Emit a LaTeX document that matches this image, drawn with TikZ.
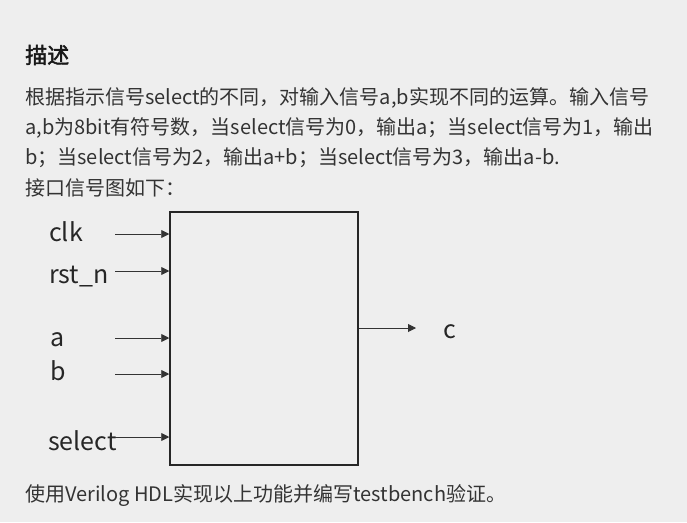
\documentclass[tikz,border=0pt]{standalone}
\usepackage{fontspec}
\setmainfont{Noto Sans CJK SC}[AutoFakeBold=2]
\usepackage{tikz}
\usetikzlibrary{positioning}
\usetikzlibrary{arrows.meta}
\definecolor{pagegray}{RGB}{238,238,238}
\definecolor{inkgray}{RGB}{51,51,51}
\tikzset{line text/.style={anchor=west,inner sep=0pt,text=inkgray,font=\fontsize{20}{20}\selectfont},
  head text/.style={anchor=west,inner sep=0pt,text=black!90,font=\fontsize{22}{22}\selectfont\bfseries},
  sig label/.style={anchor=base west,inner sep=0pt,text=black!85,font=\fontsize{25}{25}\selectfont},
  pin arrow/.style={-{Triangle[length=8pt,width=8pt]},line width=0.9pt,draw=black!80},
  block box/.style={draw=black!85,line width=1.5pt,minimum width=188pt,minimum height=253pt,inner sep=0pt},}

\begin{document}
\begin{tikzpicture}[x=1pt,y=-1pt]
	\fill[pagegray] (0,0) rectangle (687,522);
	\useasboundingbox (0,0) rectangle (687,522);

	% description text
	\node[head text] (title) at (25,55) {描述};
	\node[line text] (line1) at (25,98) {根据指示信号select的不同，对输入信号a,b实现不同的运算。输入信号};
	\node[line text] (line2) at (25,128) {a,b为8bit有符号数，当select信号为0，输出a；当select信号为1，输出};
	\node[line text] (line3) at (25,158) {b；当select信号为2，输出a+b；当select信号为3，输出a-b.};
	\node[line text] (line4) at (25,188) {接口信号图如下：};

	% module block
	\node[block box] (blk) at (264,338.5) {};

	\coordinate (clk in) at (115,234);
	\coordinate (rst in) at (115,271);
	\coordinate (a in) at (115,338);
	\coordinate (b in) at (115,374);
	\coordinate (sel in) at (115,437);
	\coordinate (c out) at (416,328);

	\node[sig label] (clk) at (49,241) {clk};
	\node[sig label] (rst) at (49,283) {rst\_n};
	\node[sig label] (a) at (50,346) {a};
	\node[sig label] (b) at (50,380) {b};
	\node[sig label] (sel) at (48,450) {select};
	\node[sig label] (c) at (443,338) {c};

	\draw[pin arrow] (clk in) -- (clk in -| blk.west);
	\draw[pin arrow] (rst in) -- (rst in -| blk.west);
	\draw[pin arrow] (a in) -- (a in -| blk.west);
	\draw[pin arrow] (b in) -- (b in -| blk.west);
	\draw[pin arrow] (sel in) -- (sel in -| blk.west);
	\draw[pin arrow] (blk.east |- c out) -- (c out);

	\node[line text] (foot) at (25,496) {使用Verilog HDL实现以上功能并编写testbench验证。};
\end{tikzpicture}
\end{document}
